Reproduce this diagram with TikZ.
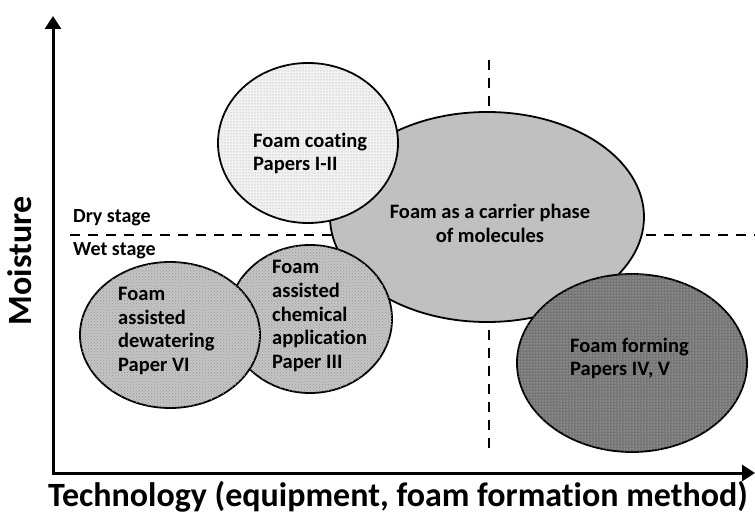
\documentclass[tikz,border=0pt]{standalone}
\usepackage{fontspec}
\setmainfont{Carlito}[BoldFont={Carlito Bold},Ligatures=NoCommon]
\usetikzlibrary{patterns,arrows.meta}
\definecolor{biggray}{RGB}{192,192,192}
\definecolor{formgray}{RGB}{118,118,118}
\definecolor{chemgray}{RGB}{196,196,196}
\tikzset{
  axisline/.style={line width=3pt,-{Triangle[length=13pt,width=16pt]}},
  divline/.style={line width=2.3pt,dash pattern=on 10pt off 8pt},
  blob/.style={line width=1.8pt,draw=black},
  lbl/.style={font=\fontsize{20.5}{23.8}\selectfont\bfseries,align=left,inner sep=0pt,text=black},
  stagelbl/.style={font=\fontsize{20}{22}\selectfont\bfseries,inner sep=0pt,anchor=west},
  axislbl/.style={font=\fontsize{34}{38}\selectfont\bfseries,inner sep=0pt}
}
\begin{document}
\begin{tikzpicture}[x=1pt,y=-1pt]
\useasboundingbox (0,0) rectangle (755,518);
% axes
\coordinate (origin) at (53,473);
\coordinate (ytip) at (53,16);
\coordinate (xtip) at (755,473);
\draw[axisline] ([yshift=-1.5pt]origin) -- (ytip);
\draw[axisline] ([xshift=-1.5pt]origin) -- (xtip);
% dashed dividers
\coordinate (hl) at (70,235);
\coordinate (hr) at (755,235);
\coordinate (vt) at (489,60);
\coordinate (vb) at (489,455);
\draw[divline] (hl) -- (hr);
\draw[divline] (vt) -- (vb);
% ellipses
\draw[blob,fill=biggray] (487,217) ellipse [x radius=157pt, y radius=105pt];
\draw[blob,fill=gray!10,postaction={pattern=dots,pattern color=gray!80}] (308,143) ellipse [x radius=90pt, y radius=80pt];
\draw[blob,fill=formgray,postaction={pattern=dots,pattern color=white!75!formgray}] (632,363) ellipse [x radius=115pt, y radius=89pt];
\draw[blob,fill=chemgray,postaction={pattern=crosshatch dots,pattern color=gray!80}] (310,319) ellipse [x radius=82pt, y radius=74pt];
\draw[blob,fill=chemgray,postaction={pattern=crosshatch dots,pattern color=gray!80}] (170,335) ellipse [x radius=90pt, y radius=73pt];
% labels
\node[lbl,anchor=west] (coat) at (253,153.5) {Foam coating\\Papers I-II};
\node[lbl,align=center] (carrier) at (490,223.5) {Foam as a carrier phase\\of molecules};
\node[lbl,anchor=west] (form) at (570,358.5) {Foam forming\\Papers IV, V};
\node[lbl,anchor=west] (dew) at (118,331) {Foam\\assisted\\dewatering\\Paper VI};
\node[lbl,anchor=west] (chem) at (272,316) {Foam\\assisted\\chemical\\application\\Paper III};
\node[stagelbl] (dry) at (73,218) {Dry stage};
\node[stagelbl] (wet) at (73,251) {Wet stage};
\node[axislbl,rotate=90] (moist) at (20,261) {Moisture};
\node[axislbl] (tech) at (398,497) {Technology (equipment, foam formation method)};
\end{tikzpicture}
\end{document}
